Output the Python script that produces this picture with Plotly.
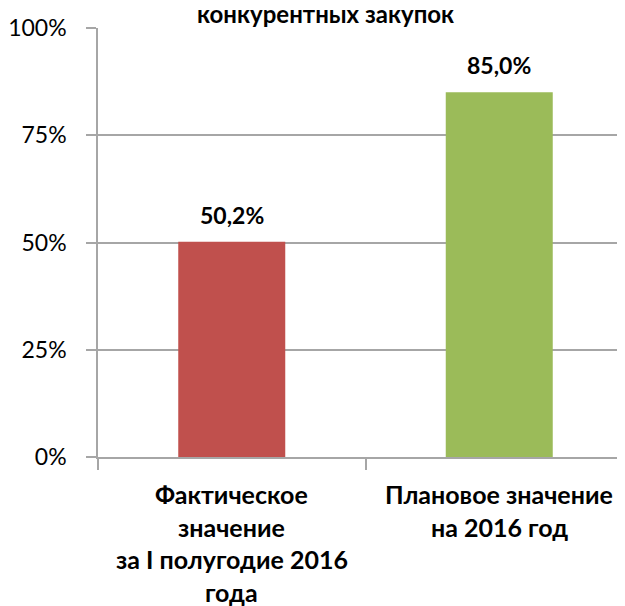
import plotly.graph_objects as go

categories = ["Фактическое значение за I полугодие 2016 года", "Плановое значение на 2016 год"]
label_lines = [["Фактическое", "значение", "за I полугодие 2016", "года"],
               ["Плановое значение", "на 2016 год"]]
values = [0.502, 0.85]
value_labels = ["50,2%", "85,0%"]
colors = ["#C0504D", "#9BBB59"]
title_text = "конкурентных закупок"

FONT = "Lato, 'Open Sans', sans-serif"
GRID = "#A6A6A6"

fig = go.Figure()
fig.add_trace(go.Bar(x=categories, y=values, marker=dict(color=colors, line=dict(width=0)),
                     width=0.4, hoverinfo="skip"))

# value labels above bars
for c, v, t in zip(categories, values, value_labels):
    fig.add_annotation(x=c, y=v, xref="x", yref="y", text=f"<b>{t}</b>", showarrow=False,
                       yshift=27, font=dict(family=FONT, size=23, color="#000000"))

# multi-line category labels
line_gap = 32.5
for c, lines in zip(categories, label_lines):
    for i, ln in enumerate(lines):
        fig.add_annotation(x=c, y=0, xref="x", yref="y", text=f"<b>{ln}</b>", showarrow=False,
                           yshift=-37 - i * line_gap, font=dict(family=FONT, size=25, color="#000000"))

fig.add_annotation(x=0.426, y=1, xref="paper", yref="paper", yanchor="middle", text=f"<b>{title_text}</b>",
                   showarrow=False, yshift=15, font=dict(family=FONT, size=24, color="#000000"))

fig.update_layout(
    width=625, height=606,
    margin=dict(l=88, r=0, t=20, b=157),
    paper_bgcolor="white", plot_bgcolor="white",
    showlegend=False,
    separators=", ",
    font=dict(family=FONT, size=23, color="#000000"),
    bargap=0.6,
)
fig.update_yaxes(range=[0, 1], tickvals=[0, 0.25, 0.5, 0.75, 1.0],
                 ticktext=["0%", "25%", "50%", "75%", "100%"],
                 showgrid=True, gridcolor=GRID, gridwidth=1.5,
                 showline=True, linecolor=GRID, linewidth=1.5,
                 ticks="outside", ticklen=10, tickcolor=GRID, tickwidth=1.5,
                 ticklabelstandoff=15, tickfont=dict(family=FONT, size=23),
                 zeroline=False)
fig.update_xaxes(showticklabels=False, tickson="boundaries", ticks="outside", ticklen=11,
                 tickcolor=GRID, tickwidth=1.5, showline=True, linecolor=GRID, linewidth=1.5,
                 showgrid=False)

fig.write_html("out.html")
